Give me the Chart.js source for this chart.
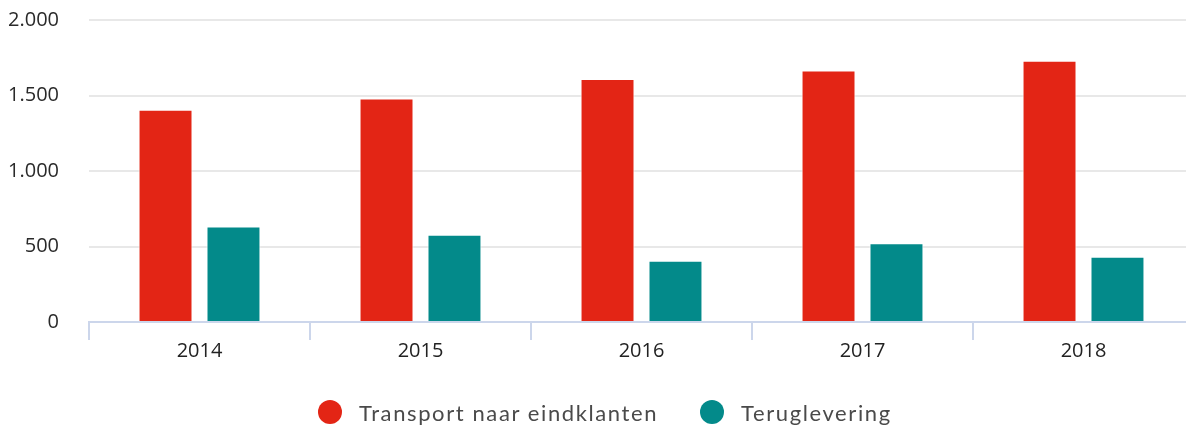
<!DOCTYPE html>
<html>
<head>
<meta charset="utf-8">
<script src="https://cdn.jsdelivr.net/npm/chart.js@4.4.1/dist/chart.umd.min.js"></script>
<style>
  html, body { margin: 0; padding: 0; background: #fff; overflow: hidden; width: 1186px; height: 428px; }
  #wrap { position: relative; width: 1200px; height: 428px; }
  #chart { position: absolute; left: 0; top: 0; }
  #legend { position: absolute; left: 318px; top: 398px; height: 28px; display: flex; align-items: center;
            font-family: Lato, "Open Sans", sans-serif; font-size: 22px; letter-spacing: 1.6px; color: #4a4a4a; white-space: nowrap; }
  .item { display: flex; align-items: center; }
  .item + .item { margin-left: 42px; }
  .dot { width: 24px; height: 24px; border-radius: 50%; margin-right: 17px; flex: none; }
</style>
</head>
<body>
<div id="wrap">
  <canvas id="chart" width="1200" height="428" style="width:1200px;height:428px"></canvas>
  <div id="legend"></div>
</div>
<script>
const years = ['2014', '2015', '2016', '2017', '2018'];
const transport = [1405, 1480, 1610, 1665, 1730];
const teruglevering = [632, 578, 405, 522, 432];
const seriesNames = ['Transport naar eindklanten', 'Teruglevering'];
const seriesColors = ['#e32515', '#038a8a'];
const yTicks = [0, 500, 1000, 1500, 2000];

function fmt(v) { return String(v).replace(/\B(?=(\d{3})+(?!\d))/g, '.'); }

const chart = new Chart(document.getElementById('chart'), {
  type: 'bar',
  data: {
    labels: years,
    datasets: [
      { label: seriesNames[0], data: transport, backgroundColor: seriesColors[0] },
      { label: seriesNames[1], data: teruglevering, backgroundColor: seriesColors[1] }
    ]
  },
  options: {
    responsive: false,
    animation: false,
    events: [],
    layout: { padding: { top: 20, right: 6, left: 0, bottom: 66 } },
    datasets: {
      bar: {
        categoryPercentage: 0.615,
        barPercentage: 0.794,
        borderWidth: 1,
        borderColor: '#ffffff',
        borderSkipped: 'bottom'
      }
    },
    plugins: { legend: { display: false }, tooltip: { enabled: false } },
    scales: {
      y: {
        min: 0, max: 2000,
        afterBuildTicks: s => { s.ticks = yTicks.map(v => ({ value: v })); },
        afterFit: s => { s.width = 89; s.paddingTop = 0; s.paddingBottom = 0; },
        ticks: { callback: v => fmt(v), color: '#2a2a2a', padding: 30,
                 font: { family: '"Open Sans"', size: 20 } },
        grid: { color: '#e8e8e8', lineWidth: 2, drawTicks: false },
        border: { display: false }
      },
      x: {
        afterFit: s => { s.height = 40; },
        grid: { offset: true, drawOnChartArea: false, tickLength: 18, color: '#ccd6eb', lineWidth: 2 },
        border: { color: '#ccd6eb', width: 2 },
        ticks: { color: '#222', padding: 0, font: { family: '"Open Sans"', size: 20, lineHeight: 1.1 } }
      }
    }
  }
});

const legend = document.getElementById('legend');
chart.data.datasets.forEach(ds => {
  const item = document.createElement('div');
  item.className = 'item';
  const dot = document.createElement('span');
  dot.className = 'dot';
  dot.style.background = ds.backgroundColor;
  const txt = document.createElement('span');
  txt.textContent = ds.label;
  item.appendChild(dot); item.appendChild(txt);
  legend.appendChild(item);
});
</script>
</body>
</html>
